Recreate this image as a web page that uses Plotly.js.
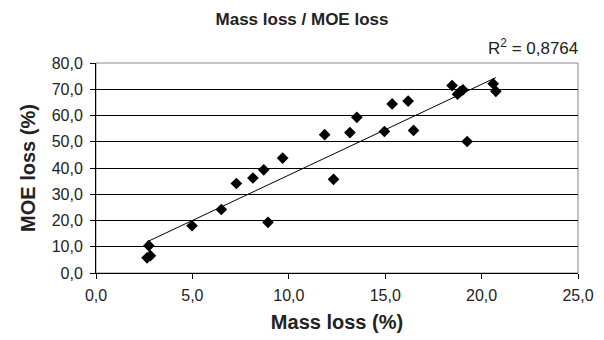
<!DOCTYPE html>
<html>
<head>
<meta charset="utf-8">
<script src="https://cdn.plot.ly/plotly-3.0.1.min.js"></script>
<style>html,body{margin:0;padding:0;background:#fff;}#chart{width:604px;height:340px;}</style>
</head>
<body>
<div id="chart"></div>
<script>
const massLoss = [2.65, 2.82, 2.74, 4.98, 6.50, 7.28, 8.14, 8.70, 8.92, 9.68, 11.86, 12.32, 13.17, 13.53, 14.96, 15.36, 16.19, 16.47, 18.47, 18.75, 18.89, 19.03, 19.25, 20.60, 20.74];
const moeLoss  = [5.8, 6.6, 10.4, 18.0, 24.2, 34.1, 36.2, 39.3, 19.3, 43.8, 52.7, 35.7, 53.5, 59.3, 53.9, 64.4, 65.5, 54.3, 71.4, 68.1, 69.1, 69.8, 50.1, 72.1, 69.2];
const r2Label = 'R<sup>2</sup> = 0,8764';

// least-squares trend line over the data range
const n = massLoss.length;
const mx = massLoss.reduce((a,b)=>a+b,0)/n;
const my = moeLoss.reduce((a,b)=>a+b,0)/n;
let sxy = 0, sxx = 0;
for (let i=0;i<n;i++){ sxy += (massLoss[i]-mx)*(moeLoss[i]-my); sxx += (massLoss[i]-mx)**2; }
const slope = sxy/sxx, icpt = my - slope*mx;
const xmin = Math.min(...massLoss), xmax = Math.max(...massLoss);
const trendX = [xmin, xmax];
const trendY = trendX.map(x => icpt + slope*x);

const font = 'Liberation Sans, Arial, sans-serif';
const data = [
  {x: trendX, y: trendY, mode: 'lines', type: 'scatter', line: {color: '#000', width: 1}, hoverinfo: 'skip'},
  {x: massLoss, y: moeLoss, mode: 'markers', type: 'scatter', marker: {symbol: 'diamond', size: 9, color: '#000'}}
];
const layout = {
  width: 604, height: 340,
  margin: {l: 96, r: 26, t: 63, b: 67},
  paper_bgcolor: '#fff', plot_bgcolor: '#fff',
  showlegend: false,
  separators: ', ',
  font: {family: font, size: 16, color: '#222'},
  title: {text: '<b>Mass loss / MOE loss</b>', x: 0.5, xanchor: 'center', y: 0.945, yanchor: 'middle', font: {family: font, size: 17, color: '#222'}},
  xaxis: {
    range: [0, 25], dtick: 5, tickformat: '.1f', showgrid: false, zeroline: false,
    showline: true, linecolor: '#000', linewidth: 1, ticks: 'outside', ticklen: 5, tickcolor: '#000',
    ticklabelstandoff: 3,
    tickfont: {family: font, size: 16, color: '#222'},
    title: {text: '<b>Mass loss (%)</b>', font: {family: font, size: 20, color: '#222'}, standoff: 11}
  },
  yaxis: {
    range: [0, 80], dtick: 10, tickformat: '.1f', showgrid: true, gridcolor: '#000', gridwidth: 1, zeroline: false,
    showline: true, linecolor: '#000', linewidth: 1, ticks: 'outside', ticklen: 5, tickcolor: '#000',
    ticklabelstandoff: 4,
    tickfont: {family: font, size: 16, color: '#222'},
    title: {text: '<b>MOE loss (%)</b>', font: {family: font, size: 20, color: '#222'}, standoff: 10}
  },
  shapes: [
    {type: 'rect', xref: 'paper', yref: 'paper', x0: 0, x1: 1, y0: 0, y1: 1, line: {color: '#888', width: 1}, layer: 'below'}
  ],
  annotations: [
    {text: r2Label, xref: 'paper', yref: 'paper', x: 1.005, y: 1.0, xanchor: 'right', yanchor: 'bottom', yshift: 3, showarrow: false, font: {family: font, size: 17, color: '#222'}}
  ]
};
Plotly.newPlot('chart', data, layout, {displayModeBar: false, staticPlot: true});
</script>
</body>
</html>
